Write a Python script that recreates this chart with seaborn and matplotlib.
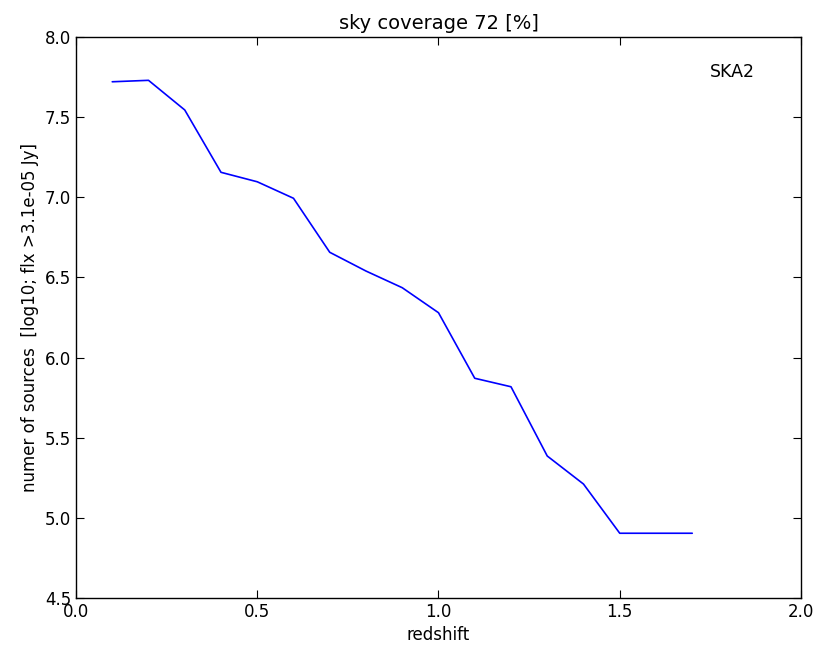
import matplotlib
matplotlib.use("Agg")
import matplotlib.pyplot as plt
import seaborn as sns
import pandas as pd

redshift = [0.1, 0.2, 0.3, 0.4, 0.5, 0.6, 0.7, 0.8, 0.9, 1.0, 1.1, 1.2, 1.3, 1.4, 1.5, 1.6, 1.7]
log_sources = [7.721, 7.730, 7.545, 7.156, 7.097, 6.994, 6.657, 6.540, 6.436, 6.280,
               5.871, 5.818, 5.386, 5.211, 4.904, 4.904, 4.904]
x_ticks = [0.0, 0.5, 1.0, 1.5, 2.0]
y_ticks = [4.5, 5.0, 5.5, 6.0, 6.5, 7.0, 7.5, 8.0]

sns.set_style("ticks", {"xtick.direction": "in", "ytick.direction": "in",
                        "text.color": "black", "axes.labelcolor": "black"})
plt.rcParams['font.family'] = ['DejaVu Sans']

df = pd.DataFrame({"redshift": redshift, "n": log_sources})

fig = plt.figure(figsize=(8.19, 6.5), dpi=100)
ax = fig.add_axes([0.0928, 0.08, 0.8852, 0.863])
sns.lineplot(data=df, x="redshift", y="n", ax=ax, color="#0000ff", linewidth=1.2)

ax.set_xlim(0, 2)
ax.set_ylim(4.5, 8.0)
ax.set_xticks(x_ticks)
ax.set_yticks(y_ticks)
ax.set_xticklabels([f"{t:.1f}" for t in x_ticks])
ax.set_yticklabels([f"{t:.1f}" for t in y_ticks])
ax.tick_params(axis="both", direction="in", length=6, width=0.8, labelsize=12,
               top=True, right=True, colors="black")
for s in ax.spines.values():
    s.set_visible(True)
    s.set_color("black")
    s.set_linewidth(1.0)

ax.set_xlabel("redshift", fontsize=12, color="black")
ax.set_ylabel("numer of sources  [log10; flx >3.1e-05 Jy]", fontsize=12, color="black")
ax.set_title("sky coverage 72 [%]", fontsize=14, color="black")
ax.text(1.75, 7.78, "SKA2", fontsize=12.5, ha="left", va="center", color="black")

fig.savefig("out.png", dpi=100)
